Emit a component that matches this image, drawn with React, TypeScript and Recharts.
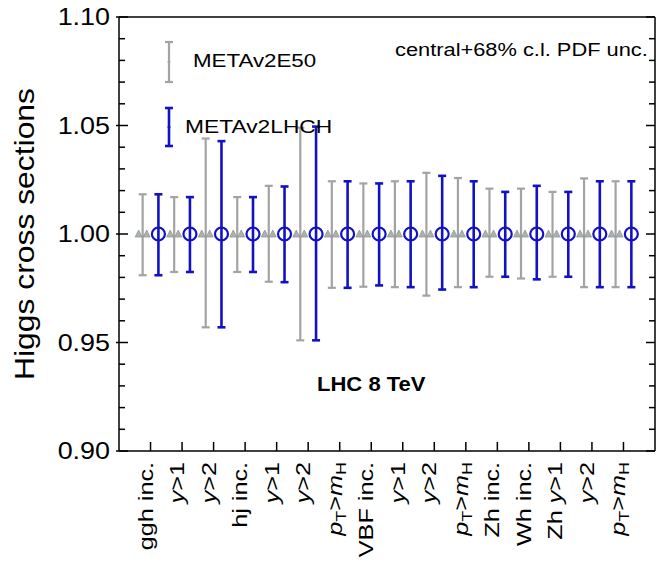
import React from "react"
import { ScatterChart, Scatter, XAxis, YAxis, ErrorBar } from "recharts"

const categories = [
  "ggh inc.", "y>1", "y>2", "hj inc.", "y>1", "y>2", "pT>mH", "VBF inc.",
  "y>1", "y>2", "pT>mH", "Zh inc.", "Wh inc.", "Zh y>1", "y>2", "pT>mH",
]

// normalised central values and 68% c.l. PDF errors (down / up)
const e50Central = [1, 1, 1, 1, 1, 1, 1, 1, 1, 1, 1, 1, 1, 1, 1, 1]
const e50Down = [0.019, 0.0175, 0.043, 0.0175, 0.022, 0.049, 0.0248, 0.0243, 0.0245, 0.0284, 0.0245, 0.0197, 0.0205, 0.0197, 0.0245, 0.0245]
const e50Up = [0.0183, 0.017, 0.044, 0.017, 0.0222, 0.049, 0.0243, 0.0233, 0.0243, 0.0282, 0.0258, 0.0209, 0.0209, 0.0194, 0.0256, 0.0243]

const lhchCentral = [1, 1, 1, 1, 1, 1, 1, 1, 1, 1, 1, 1, 1, 1, 1, 1]
const lhchDown = [0.019, 0.0175, 0.043, 0.0175, 0.0222, 0.049, 0.0248, 0.0237, 0.0245, 0.0256, 0.0245, 0.0197, 0.0209, 0.0197, 0.0245, 0.0245]
const lhchUp = [0.0183, 0.017, 0.0428, 0.017, 0.0219, 0.0495, 0.0243, 0.0233, 0.0243, 0.0268, 0.0243, 0.0194, 0.0222, 0.0194, 0.0243, 0.0243]

const yTicks = [0.9, 0.91, 0.92, 0.93, 0.94, 0.95, 0.96, 0.97, 0.98, 0.99, 1.0, 1.01, 1.02, 1.03, 1.04, 1.05, 1.06, 1.07, 1.08, 1.09, 1.1]
const yTickLabels = ["0.90", "0.95", "1.00", "1.05", "1.10"]

const GRAY = "#a3a3a3"
const BLUE = "#1212c4"
const FONT = "'Liberation Sans', Arial, Helvetica, sans-serif"

const xTicks = categories.map((_, i) => i)
const e50Data = categories.map((_, i) => ({ x: i - 0.25, y: e50Central[i], err: [e50Down[i], e50Up[i]] }))
const lhchData = categories.map((_, i) => ({ x: i + 0.25, y: lhchCentral[i], err: [lhchDown[i], lhchUp[i]] }))

function renderLabel(label: string) {
  if (label === "pT>mH") {
    return (
      <>
        <tspan fontStyle="italic">p</tspan>
        <tspan dy={4} fontSize={15}>T</tspan>
        <tspan dy={-4}>&gt;</tspan>
        <tspan fontStyle="italic">m</tspan>
        <tspan dy={4} fontSize={15}>H</tspan>
      </>
    )
  }
  const k = label.indexOf("y>")
  if (k >= 0) {
    return (
      <>
        {k > 0 && <tspan>{label.slice(0, k)}</tspan>}
        <tspan fontStyle="italic">y</tspan>
        <tspan>{label.slice(k + 1)}</tspan>
      </>
    )
  }
  return label
}

function BottomTick(props: any) {
  const { x, y, payload } = props
  const label = categories[payload.value]
  return (
    <g>
      <line x1={x} x2={x} y1={y} y2={y - 9} stroke="#000" strokeWidth={1.5} />
      <text
        transform={`translate(${x + 2},${y + 11}) rotate(-90) scale(1.2,1)`}
        textAnchor="end"
        fontSize={21}
        fontFamily={FONT}
        fill="#000"
      >
        {renderLabel(label)}
      </text>
    </g>
  )
}

function TopTick(props: any) {
  const { x, y } = props
  return <line x1={x} x2={x} y1={y} y2={y + 9} stroke="#000" strokeWidth={1.5} />
}

function findLabel(v: number) {
  return yTickLabels.find((l) => Math.abs(parseFloat(l) - v) < 1e-6)
}

function LeftTick(props: any) {
  const { x, y, payload } = props
  const label = findLabel(payload.value)
  return (
    <g>
      <line x1={label ? x - 3 : x} x2={label ? x + 9 : x + 6} y1={y} y2={y} stroke="#000" strokeWidth={1.5} />
      {label && (
        <text
          transform={`translate(${x - 9},${y}) scale(1.17,1)`}
          textAnchor="end"
          dy="0.36em"
          fontSize={23}
          fontFamily={FONT}
          fill="#000"
        >
          {label}
        </text>
      )}
    </g>
  )
}

function RightTick(props: any) {
  const { x, y, payload } = props
  const label = findLabel(payload.value)
  return <line x1={x} x2={x - (label ? 9 : 6)} y1={y} y2={y} stroke="#000" strokeWidth={1.5} />
}

function Triangles(props: any) {
  const { cx, cy } = props
  if (cx == null || cy == null) return null
  const tri = (c: number) => `${c - 3.5},${cy + 3} ${c + 3.5},${cy + 3} ${c},${cy - 4}`
  return (
    <g>
      <polygon points={tri(cx - 4)} fill="#b0b0a8" stroke="#8a9a9a" strokeWidth={0.8} />
      <polygon points={tri(cx + 4)} fill="#b0b0a8" stroke="#8a9a9a" strokeWidth={0.8} />
    </g>
  )
}

function Ring(props: any) {
  const { cx, cy } = props
  if (cx == null || cy == null) return null
  return <circle cx={cx} cy={cy} r={6.5} fill="none" stroke={BLUE} strokeWidth={2.2} />
}

function LegendBar({ x, y1, y2, color, w }: { x: number; y1: number; y2: number; color: string; w: number }) {
  return (
    <g stroke={color} strokeWidth={w}>
      <line x1={x} x2={x} y1={y1} y2={y2} />
      <line x1={x - 4} x2={x + 4} y1={y1} y2={y1} />
      <line x1={x - 4} x2={x + 4} y1={y2} y2={y2} />
      <circle cx={x} cy={(y1 + y2) / 2} r={1.5} fill={color} strokeWidth={0} />
    </g>
  )
}

export default function App() {
  return (
    <div style={{ position: "absolute", left: 0, top: 0, width: 657, height: 570, background: "#fff" }}>
      <ScatterChart width={657} height={570} margin={{ top: 0, right: 0, bottom: 0, left: 0 }}>
        <XAxis
          type="number"
          dataKey="x"
          domain={[-1, 16]}
          ticks={xTicks}
          interval={0}
          height={119}
          tickSize={0}
          tickMargin={0}
          tick={<BottomTick />}
          axisLine={{ stroke: "#000", strokeWidth: 1.5 }}
          allowDataOverflow
        />
        <XAxis
          xAxisId="top"
          orientation="top"
          type="number"
          domain={[-1, 16]}
          ticks={xTicks}
          interval={0}
          height={17}
          tickSize={0}
          tickMargin={0}
          tick={<TopTick />}
          axisLine={{ stroke: "#000", strokeWidth: 1.5 }}
          allowDataOverflow
        />
        <YAxis
          type="number"
          dataKey="y"
          domain={[0.9, 1.1]}
          ticks={yTicks}
          interval={0}
          width={119}
          tickSize={0}
          tickMargin={0}
          tick={<LeftTick />}
          axisLine={{ stroke: "#000", strokeWidth: 1.5 }}
          allowDataOverflow
        />
        <YAxis
          yAxisId="right"
          orientation="right"
          type="number"
          domain={[0.9, 1.1]}
          ticks={yTicks}
          interval={0}
          width={2}
          tickSize={0}
          tickMargin={0}
          tick={<RightTick />}
          axisLine={{ stroke: "#000", strokeWidth: 1.5 }}
          allowDataOverflow
        />
        <Scatter name="METAv2E50" data={e50Data} shape={<Triangles />} isAnimationActive={false}>
          <ErrorBar dataKey="err" direction="y" width={4} stroke={GRAY} strokeWidth={2.2} />
        </Scatter>
        <Scatter name="METAv2LHCH" data={lhchData} shape={<Ring />} isAnimationActive={false}>
          <ErrorBar dataKey="err" direction="y" width={4} stroke={BLUE} strokeWidth={2.6} />
        </Scatter>
      </ScatterChart>
      <svg
        width={657}
        height={570}
        style={{ position: "absolute", left: 0, top: 0, pointerEvents: "none" }}
        fontFamily={FONT}
      >
        <text transform="translate(34,234) rotate(-90) scale(1.18,1)" textAnchor="middle" fontSize={27} fill="#000">
          Higgs cross sections
        </text>
        <LegendBar x={169} y1={42} y2={82} color={GRAY} w={2.2} />
        <text transform="translate(193,66.5) scale(1.2,1)" fontSize={18.6} fill="#000">METAv2E50</text>
        <LegendBar x={169} y1={108} y2={146} color={BLUE} w={2.6} />
        <text transform="translate(185,133) scale(1.2,1)" fontSize={19} fill="#000">METAv2LHCH</text>
        <text transform="translate(395,56) scale(1.18,1)" fontSize={18.5} fill="#000">central+68% c.l. PDF unc.</text>
        <text transform="translate(317,390.5) scale(1.13,1)" fontSize={19.5} fontWeight="bold" fill="#000">LHC 8 TeV</text>
      </svg>
    </div>
  )
}
